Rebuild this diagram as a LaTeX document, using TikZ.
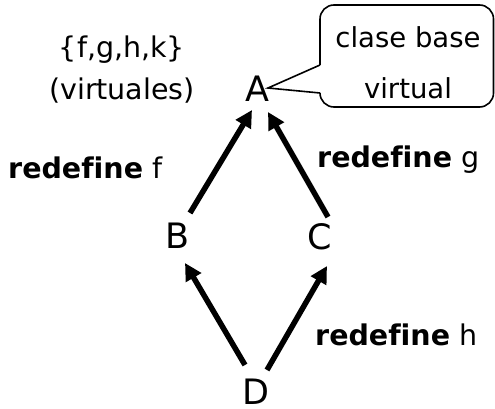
\documentclass[tikz,border=0pt]{standalone}
\usepackage{fontspec}
\setmainfont{DejaVu Sans}[Ligatures=CommonOff]
\usetikzlibrary{arrows.meta}
\begin{document}
\begin{tikzpicture}[x=1pt,y=-1pt,
  txt/.style={inner sep=0pt, anchor=base, font=\fontsize{28.5}{32}\selectfont},
  lbl/.style={inner sep=0pt, anchor=base west, font=\fontsize{28.5}{32}\selectfont},
  letter/.style={inner sep=0pt, anchor=base, font=\fontsize{35}{40}\selectfont},
  arr/.style={line width=5.5pt, -{Triangle[length=17pt,width=17pt]}},
  callbox/.style={line width=1.6pt}]
\useasboundingbox (0,0) rectangle (495,409);
% class letters
\node[letter] (A) at (257,102) {A};
\node[letter] (B) at (178,248) {B};
\node[letter] (C) at (320,249) {C};
\node[letter] (D) at (256,404) {D};
% texts
\node[txt] (set) at (122,58) {\{f,g,h,k\}};
\node[txt] (virt) at (122,100) {(virtuales)};
\node[lbl] (rf) at (8,178) {\textbf{redefine} f};
\node[lbl] (rg) at (317,167) {\textbf{redefine} g};
\node[lbl] (rh) at (315,345) {\textbf{redefine} h};
% callout
\node[txt, font=\fontsize{27.5}{30}\selectfont] (cl1) at (408,48) {clase base};
\node[txt, font=\fontsize{27.5}{30}\selectfont] (cl2) at (408,99) {virtual};
\coordinate (tip) at ([shift={(11pt,14pt)}]A.base);
\draw[callbox, rounded corners=14pt] (320,93) -- (320,107) -- (493.5,107) -- (493.5,5) -- (320,5) -- (320,65);
\draw[callbox, line join=miter] (320,65) -- (tip) -- (320,93);
% arrows
\draw[arr] ([shift={(12pt,35pt)}]B.base) -- ([shift={(-5pt,-8pt)}]A.base);
\draw[arr] ([shift={(8pt,32pt)}]C.base) -- ([shift={(11pt,-10pt)}]A.base);
\draw[arr] ([shift={(-11pt,39pt)}]D.base) -- ([shift={(7pt,-15pt)}]B.base);
\draw[arr] ([shift={(11pt,34pt)}]D.base) -- ([shift={(7pt,-17pt)}]C.base);
\end{tikzpicture}
\end{document}
